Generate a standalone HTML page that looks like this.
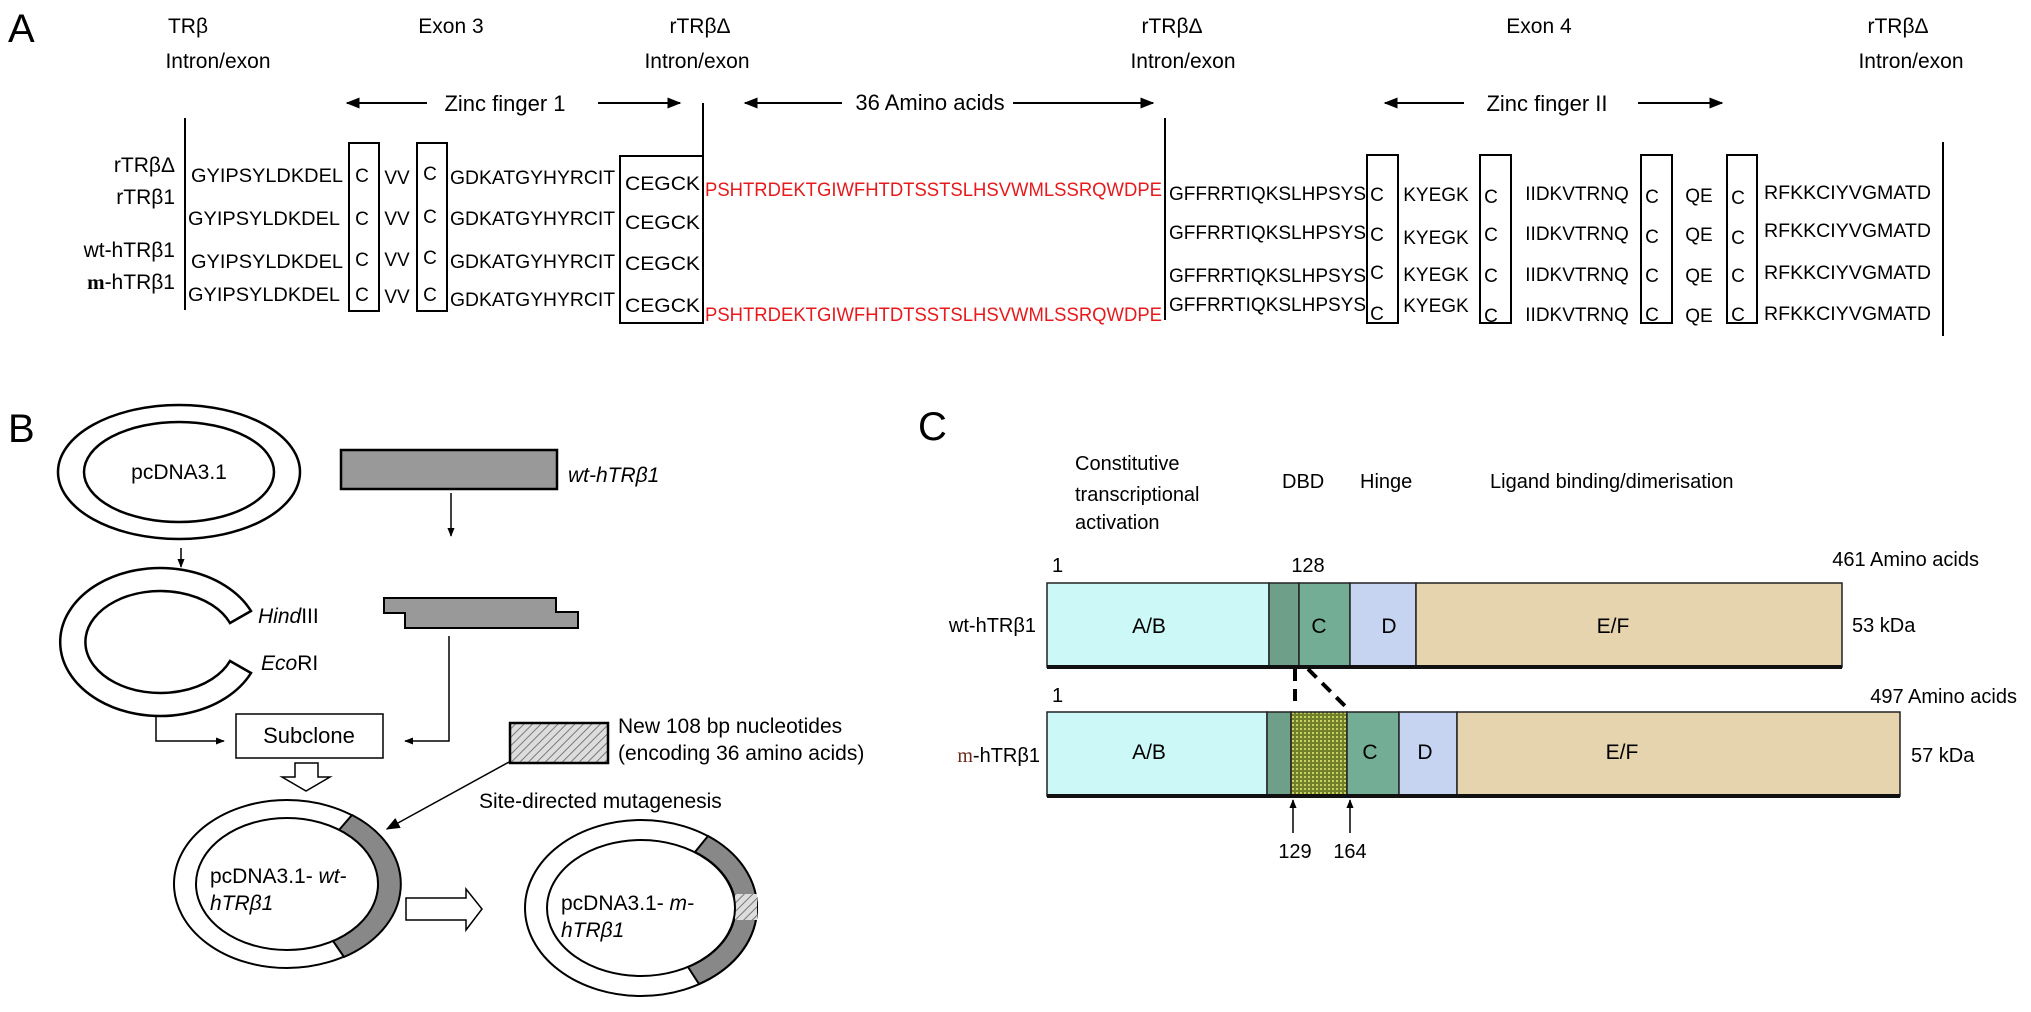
<!DOCTYPE html>
<html><head><meta charset="utf-8"><style>
html,body{margin:0;padding:0;background:#fff;}
svg{display:block;font-family:"Liberation Sans",Arial,sans-serif;}
</style></head><body>
<svg width="2031" height="1012" viewBox="0 0 2031 1012" xmlns="http://www.w3.org/2000/svg">
<defs>
<marker id="ah" viewBox="0 0 10 10" refX="9" refY="5" markerWidth="9" markerHeight="9" orient="auto-start-reverse" markerUnits="userSpaceOnUse"><path d="M0,1 L10,5 L0,9 Z" fill="#000"/></marker>
<marker id="ah2" viewBox="0 0 10 10" refX="9" refY="5" markerWidth="14" markerHeight="14" orient="auto-start-reverse" markerUnits="userSpaceOnUse"><path d="M0,1 L10,5 L0,9 Z" fill="#000"/></marker>
<pattern id="hatch" width="6" height="6" patternUnits="userSpaceOnUse" patternTransform="rotate(45)"><rect width="6" height="6" fill="#ddd"/><line x1="0" y1="0" x2="0" y2="6" stroke="#777" stroke-width="2"/></pattern>
<pattern id="dots" width="4" height="4" patternUnits="userSpaceOnUse"><rect width="4" height="4" fill="#6f7f2a"/><rect width="2" height="2" fill="#c8d060"/></pattern>
</defs>

<!-- PANEL A -->
<text x="8" y="42" font-size="40">A</text>
<g font-size="21" text-anchor="middle">
<text x="188" y="33">TRβ</text><text x="218" y="68">Intron/exon</text>
<text x="451" y="33">Exon 3</text>
<text x="700" y="33">rTRβΔ</text><text x="697" y="68">Intron/exon</text>
<text x="1172" y="33">rTRβΔ</text><text x="1183" y="68">Intron/exon</text>
<text x="1539" y="33">Exon 4</text>
<text x="1898" y="33">rTRβΔ</text><text x="1911" y="68">Intron/exon</text>
</g>
<g stroke="#000" stroke-width="2" fill="none">
<line x1="427" y1="103" x2="347" y2="103" marker-end="url(#ah2)"/>
<line x1="598" y1="103" x2="680" y2="103" marker-end="url(#ah2)"/>
<line x1="842" y1="103" x2="745" y2="103" marker-end="url(#ah2)"/>
<line x1="1013" y1="103" x2="1153" y2="103" marker-end="url(#ah2)"/>
<line x1="1464" y1="103" x2="1385" y2="103" marker-end="url(#ah2)"/>
<line x1="1638" y1="103" x2="1722" y2="103" marker-end="url(#ah2)"/>
<line x1="185" y1="118" x2="185" y2="310"/>
<line x1="703" y1="103" x2="703" y2="323"/>
<line x1="1165" y1="118" x2="1165" y2="320"/>
<line x1="1943" y1="142" x2="1943" y2="336"/>
<rect x="349" y="143" width="30" height="168"/>
<rect x="417" y="143" width="30" height="168"/>
<rect x="620" y="156" width="83" height="167"/>
<rect x="1367" y="155" width="31" height="168"/>
<rect x="1480" y="155" width="31" height="168"/>
<rect x="1641" y="155" width="31" height="168"/>
<rect x="1727" y="155" width="30" height="168"/>
</g>
<g font-size="21" text-anchor="end">
<text x="175" y="172">rTRβΔ</text>
<text x="175" y="204">rTRβ1</text>
<text x="175" y="257">wt-hTRβ1</text>
<text x="175" y="289"><tspan font-family="Liberation Serif" font-weight="bold">m</tspan>-hTRβ1</text>
</g>
<g font-size="19" lengthAdjust="spacingAndGlyphs">
<!-- left rows -->
<g>
<text x="191" y="182" textLength="152" lengthAdjust="spacingAndGlyphs">GYIPSYLDKDEL</text>
<text x="188" y="225" textLength="152" lengthAdjust="spacingAndGlyphs">GYIPSYLDKDEL</text>
<text x="191" y="268" textLength="152" lengthAdjust="spacingAndGlyphs">GYIPSYLDKDEL</text>
<text x="188" y="301" textLength="152" lengthAdjust="spacingAndGlyphs">GYIPSYLDKDEL</text>
</g>
<g text-anchor="middle">
<text x="362" y="182">C</text><text x="362" y="225">C</text><text x="362" y="266">C</text><text x="362" y="301">C</text>
<text x="397" y="184">VV</text><text x="397" y="225">VV</text><text x="397" y="266">VV</text><text x="397" y="303">VV</text>
<text x="430" y="180">C</text><text x="430" y="223">C</text><text x="430" y="264">C</text><text x="430" y="301">C</text>
</g>
<text x="450" y="184" textLength="165" lengthAdjust="spacingAndGlyphs">GDKATGYHYRCIT</text>
<text x="450" y="225" textLength="165" lengthAdjust="spacingAndGlyphs">GDKATGYHYRCIT</text>
<text x="450" y="268" textLength="165" lengthAdjust="spacingAndGlyphs">GDKATGYHYRCIT</text>
<text x="450" y="306" textLength="165" lengthAdjust="spacingAndGlyphs">GDKATGYHYRCIT</text>
<text x="625" y="190" textLength="75" lengthAdjust="spacingAndGlyphs">CEGCK</text>
<text x="625" y="229" textLength="75" lengthAdjust="spacingAndGlyphs">CEGCK</text>
<text x="625" y="270" textLength="75" lengthAdjust="spacingAndGlyphs">CEGCK</text>
<text x="625" y="312" textLength="75" lengthAdjust="spacingAndGlyphs">CEGCK</text>
<text x="705" y="196" fill="#e8191c" textLength="457" lengthAdjust="spacingAndGlyphs">PSHTRDEKTGIWFHTDTSSTSLHSVWMLSSRQWDPE</text>
<text x="705" y="321" fill="#e8191c" textLength="457" lengthAdjust="spacingAndGlyphs">PSHTRDEKTGIWFHTDTSSTSLHSVWMLSSRQWDPE</text>
<!-- right rows -->
<text x="1169" y="200" textLength="197" lengthAdjust="spacingAndGlyphs">GFFRRTIQKSLHPSYS</text>
<text x="1169" y="239" textLength="197" lengthAdjust="spacingAndGlyphs">GFFRRTIQKSLHPSYS</text>
<text x="1169" y="282" textLength="197" lengthAdjust="spacingAndGlyphs">GFFRRTIQKSLHPSYS</text>
<text x="1169" y="311" textLength="197" lengthAdjust="spacingAndGlyphs">GFFRRTIQKSLHPSYS</text>
<g text-anchor="middle">
<text x="1377" y="201">C</text><text x="1377" y="241">C</text><text x="1377" y="279">C</text><text x="1377" y="320">C</text>
<text x="1436" y="201">KYEGK</text><text x="1436" y="244">KYEGK</text><text x="1436" y="281">KYEGK</text><text x="1436" y="312">KYEGK</text>
<text x="1491" y="203">C</text><text x="1491" y="241">C</text><text x="1491" y="282">C</text><text x="1491" y="322">C</text>
<text x="1577" y="200">IIDKVTRNQ</text><text x="1577" y="240">IIDKVTRNQ</text><text x="1577" y="281">IIDKVTRNQ</text><text x="1577" y="321">IIDKVTRNQ</text>
<text x="1652" y="203">C</text><text x="1652" y="243">C</text><text x="1652" y="282">C</text><text x="1652" y="321">C</text>
<text x="1699" y="202">QE</text><text x="1699" y="241">QE</text><text x="1699" y="282">QE</text><text x="1699" y="322">QE</text>
<text x="1738" y="204">C</text><text x="1738" y="244">C</text><text x="1738" y="282">C</text><text x="1738" y="321">C</text>
</g>
<text x="1764" y="199" textLength="167" lengthAdjust="spacingAndGlyphs">RFKKCIYVGMATD</text>
<text x="1764" y="237" textLength="167" lengthAdjust="spacingAndGlyphs">RFKKCIYVGMATD</text>
<text x="1764" y="279" textLength="167" lengthAdjust="spacingAndGlyphs">RFKKCIYVGMATD</text>
<text x="1764" y="320" textLength="167" lengthAdjust="spacingAndGlyphs">RFKKCIYVGMATD</text>
</g>
<g font-size="22" text-anchor="middle">
<text x="505" y="111">Zinc finger 1</text>
<text x="930" y="110">36 Amino acids</text>
<text x="1547" y="111">Zinc finger II</text>
</g>

<!-- PANEL B -->
<text x="8" y="442" font-size="40">B</text>
<g stroke="#000" stroke-width="2.5" fill="#fff">
<ellipse cx="179" cy="472" rx="121" ry="67"/>
<ellipse cx="179" cy="472" rx="95" ry="50"/>
<path d="M251,611 A100,74 0 1 0 251,673 L230,661 A75,51 0 1 1 230,623 Z"/>
</g>
<text x="179" y="479" font-size="21" text-anchor="middle">pcDNA3.1</text>
<g stroke="#000" stroke-width="1.5" fill="none">
<line x1="181" y1="548" x2="181" y2="567" marker-end="url(#ah)"/>
<line x1="451" y1="493" x2="451" y2="536" marker-end="url(#ah)"/>
<polyline points="156,716 156,741 224,741" marker-end="url(#ah)"/>
<polyline points="449,636 449,741 405,741" marker-end="url(#ah)"/>
<line x1="509" y1="762" x2="387" y2="829" marker-end="url(#ah2)"/>
</g>
<rect x="341" y="450" width="216" height="39" fill="#999" stroke="#000" stroke-width="2.5"/>
<text x="568" y="482" font-size="21" font-style="italic">wt-hTRβ1</text>
<polygon points="384,598 556,598 556,612 578,612 578,628 405,628 405,613 384,613" fill="#999" stroke="#000" stroke-width="2"/>
<text x="258" y="623" font-size="21"><tspan font-style="italic">Hind</tspan>III</text>
<text x="261" y="670" font-size="21"><tspan font-style="italic">Eco</tspan>RI</text>
<rect x="236" y="714" width="147" height="44" fill="#fff" stroke="#000" stroke-width="1.5"/>
<text x="309" y="743" font-size="22" text-anchor="middle">Subclone</text>
<polygon points="295,763 318,763 318,777 330,777 306,791 282,777 295,777" fill="#fff" stroke="#000" stroke-width="1.5"/>
<rect x="510" y="723" width="98" height="40" fill="url(#hatch)" stroke="#000" stroke-width="2.5"/>
<text x="618" y="733" font-size="21">New 108 bp nucleotides</text>
<text x="618" y="760" font-size="21">(encoding 36 amino acids)</text>
<text x="479" y="808" font-size="21">Site-directed mutagenesis</text>
<!-- wt plasmid -->
<g stroke="#000" stroke-width="2">
<ellipse cx="287" cy="884" rx="113" ry="84" fill="#fff"/>
<path d="M352,815 A113,84 0 0 1 344,957 L333,941 A91,66 0 0 0 339,830 Z" fill="#888"/>
<ellipse cx="287" cy="884" rx="91" ry="66" fill="#fff"/>
</g>
<text x="210" y="883" font-size="21">pcDNA3.1- <tspan font-style="italic">wt-</tspan></text>
<text x="210" y="910" font-size="21" font-style="italic">hTRβ1</text>
<polygon points="406,898 466,898 466,889 482,909 466,930 466,920 406,920" fill="#fff" stroke="#000" stroke-width="1.5"/>
<!-- m plasmid -->
<g stroke="#000" stroke-width="2">
<ellipse cx="641" cy="908" rx="116" ry="88" fill="#fff"/>
<path d="M708,836 A116,88 0 0 1 699,984 L688,967 A94,68 0 0 0 695,852 Z" fill="#888"/>
<rect x="735" y="894" width="22" height="26" fill="url(#hatch)" stroke="none"/>
<ellipse cx="641" cy="908" rx="94" ry="68" fill="#fff"/>
</g>
<text x="561" y="910" font-size="21">pcDNA3.1- <tspan font-style="italic">m-</tspan></text>
<text x="561" y="937" font-size="21" font-style="italic">hTRβ1</text>

<!-- PANEL C -->
<text x="918" y="440" font-size="40">C</text>
<g font-size="20">
<text x="1075" y="470">Constitutive</text>
<text x="1075" y="501">transcriptional</text>
<text x="1075" y="529">activation</text>
<text x="1282" y="488">DBD</text>
<text x="1360" y="488">Hinge</text>
<text x="1490" y="488">Ligand binding/dimerisation</text>
<text x="1052" y="572">1</text>
<text x="1308" y="572" text-anchor="middle">128</text>
<text x="1979" y="566" text-anchor="end">461 Amino acids</text>
<text x="1036" y="632" text-anchor="end">wt-hTRβ1</text>
<text x="1852" y="632">53 kDa</text>
<text x="1052" y="702">1</text>
<text x="2017" y="703" text-anchor="end">497 Amino acids</text>
<text x="1040" y="762" text-anchor="end"><tspan font-family="Liberation Serif" fill="#6b2a1a">m</tspan>-hTRβ1</text>
<text x="1911" y="762">57 kDa</text>
<text x="1295" y="858" text-anchor="middle">129</text>
<text x="1350" y="858" text-anchor="middle">164</text>
</g>
<g stroke="#222" stroke-width="1.5">
<rect x="1047" y="583" width="222" height="84" fill="#ccf8f8"/>
<rect x="1269" y="583" width="30" height="84" fill="#6d9f89"/>
<rect x="1299" y="583" width="51" height="84" fill="#74ad96"/>
<rect x="1350" y="583" width="66" height="84" fill="#c6d3f1"/>
<rect x="1416" y="583" width="426" height="84" fill="#e6d4ae"/>
<rect x="1047" y="712" width="220" height="84" fill="#ccf8f8"/>
<rect x="1267" y="712" width="24" height="84" fill="#6d9f89"/>
<rect x="1291" y="712" width="56" height="84" fill="url(#dots)"/>
<rect x="1347" y="712" width="52" height="84" fill="#74ad96"/>
<rect x="1399" y="712" width="58" height="84" fill="#c6d3f1"/>
<rect x="1457" y="712" width="443" height="84" fill="#e6d4ae"/>
</g>
<line x1="1047" y1="667" x2="1842" y2="667" stroke="#111" stroke-width="4"/>
<line x1="1047" y1="796" x2="1900" y2="796" stroke="#111" stroke-width="4"/>
<g font-size="21" text-anchor="middle">
<text x="1149" y="633">A/B</text><text x="1319" y="633">C</text><text x="1389" y="633">D</text><text x="1613" y="633">E/F</text>
<text x="1149" y="759">A/B</text><text x="1370" y="759">C</text><text x="1425" y="759">D</text><text x="1622" y="759">E/F</text>
</g>
<g stroke="#000" stroke-width="4" stroke-dasharray="12,8" fill="none">
<line x1="1295" y1="669" x2="1295" y2="708"/>
<line x1="1308" y1="669" x2="1347" y2="708"/>
</g>
<g stroke="#000" stroke-width="1.5">
<line x1="1293" y1="833" x2="1293" y2="800" marker-end="url(#ah)"/>
<line x1="1350" y1="833" x2="1350" y2="800" marker-end="url(#ah)"/>
</g>
</svg>
</body></html>
